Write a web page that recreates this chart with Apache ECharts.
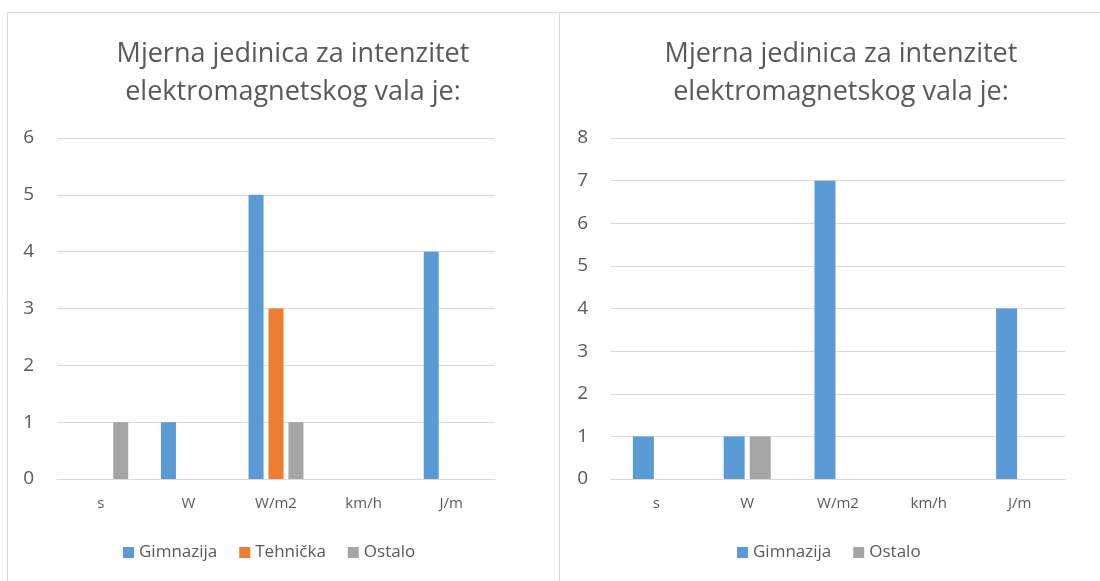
<!DOCTYPE html>
<html>
<head>
<meta charset="utf-8">
<script src="https://cdn.jsdelivr.net/npm/echarts@6/dist/echarts.min.js"></script>
<style>
  html, body { margin: 0; padding: 0; background: #fff; }
  #chart { width: 1100px; height: 581px; }
</style>
</head>
<body>
<div id="chart"></div>
<script>
// Answer categories (units offered)
const categories = ['s', 'W', 'W/m2', 'km/h', 'J/m'];
const titleText = 'Mjerna jedinica za intenzitet\nelektromagnetskog vala je:';

// Left panel: counts per school type
const leftGimnazija = [0, 1, 5, 0, 4];
const leftTehnicka  = [0, 0, 3, 0, 0];
const leftOstalo    = [1, 0, 1, 0, 0];

// Right panel: counts per school type
const rightGimnazija = [1, 1, 7, 0, 4];
const rightOstalo    = [0, 1, 0, 0, 0];

const BLUE = '#5B9BD5', ORANGE = '#ED7D31', GRAY = '#A5A5A5';
const TEXT = '#595959', GRID = '#D9D9D9';
const FONT = '"Open Sans", "Noto Sans", sans-serif';

const chart = echarts.init(document.getElementById('chart'));

function xAxis(gridIndex) {
  return {
    type: 'category', gridIndex, data: categories,
    axisLine: { show: true, lineStyle: { color: GRID, width: 1 } },
    axisTick: { show: false },
    axisLabel: { color: TEXT, fontSize: 15, fontFamily: FONT, margin: 17 }
  };
}
function yAxis(gridIndex, max) {
  return {
    type: 'value', gridIndex, min: 0, max, interval: 1,
    axisLine: { show: false }, axisTick: { show: false },
    splitLine: { lineStyle: { color: GRID, width: 1 } },
    axisLabel: { color: TEXT, fontSize: 19, fontFamily: FONT, margin: 23 }
  };
}

const titleStyle = { color: TEXT, fontSize: 27, fontWeight: 'normal', fontFamily: FONT, lineHeight: 38 };
const legendText = { color: TEXT, fontSize: 17, fontFamily: FONT };

chart.setOption({
  animation: false,
  backgroundColor: '#fff',
  title: [
    { text: titleText, left: 288, top: 30, textAlign: 'center', textStyle: titleStyle },
    { text: titleText, left: 836, top: 30, textAlign: 'center', textStyle: titleStyle }
  ],
  legend: [
    { data: ['Gimnazija', 'Tehnička', 'Ostalo'], left: 118, top: 539,
      itemWidth: 11, itemHeight: 11, itemGap: 22, icon: 'rect',
      textStyle: legendText, selectedMode: false },
    { data: ['Gimnazija', 'Ostalo'], left: 732, top: 539,
      itemWidth: 11, itemHeight: 11, itemGap: 22, icon: 'rect',
      textStyle: legendText, selectedMode: false }
  ],
  graphic: [
    { type: 'rect', shape: { x: 7.5, y: 12.5, width: 552, height: 620 },
      style: { fill: 'none', stroke: GRID, lineWidth: 1 }, z: -1 },
    { type: 'rect', shape: { x: 559.5, y: 12.5, width: 620, height: 620 },
      style: { fill: 'none', stroke: GRID, lineWidth: 1 }, z: -1 }
  ],
  grid: [
    { left: 57, right: 605, top: 138, height: 341 },
    { left: 611, right: 35, top: 138, height: 341 }
  ],
  xAxis: [xAxis(0), xAxis(1)],
  yAxis: [yAxis(0, 6), yAxis(1, 8)],
  series: [
    { name: 'Gimnazija', type: 'bar', xAxisIndex: 0, yAxisIndex: 0, data: leftGimnazija,
      barWidth: 15, barGap: '33%', itemStyle: { color: BLUE } },
    { name: 'Tehnička', type: 'bar', xAxisIndex: 0, yAxisIndex: 0, data: leftTehnicka,
      barWidth: 15, barGap: '33%', itemStyle: { color: ORANGE } },
    { name: 'Ostalo', type: 'bar', xAxisIndex: 0, yAxisIndex: 0, data: leftOstalo,
      barWidth: 15, barGap: '33%', itemStyle: { color: GRAY } },
    { name: 'Gimnazija', type: 'bar', xAxisIndex: 1, yAxisIndex: 1, data: rightGimnazija,
      barWidth: 21, barGap: '24%', itemStyle: { color: BLUE } },
    { name: 'Ostalo', type: 'bar', xAxisIndex: 1, yAxisIndex: 1, data: rightOstalo,
      barWidth: 21, barGap: '24%', itemStyle: { color: GRAY } }
  ]
});
</script>
</body>
</html>
